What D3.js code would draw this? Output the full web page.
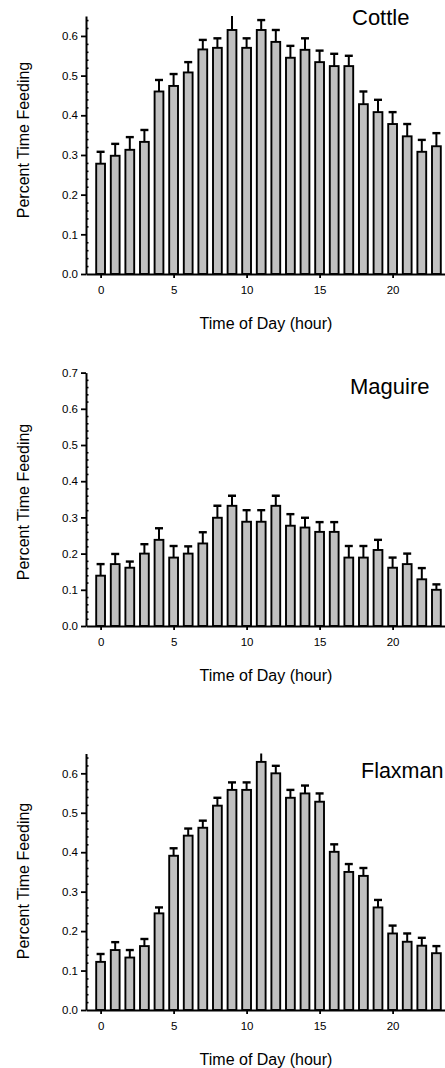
<!DOCTYPE html>
<html><head><meta charset="utf-8">
<script src="https://cdn.jsdelivr.net/npm/d3@7"></script>
<style>
body{margin:0;background:#fff}
svg{display:block}
text{font-family:"Liberation Sans",Arial,Helvetica,sans-serif;fill:#000}
</style>
</head><body>
<svg id="chart" width="445" height="1068"></svg>
<script>
// ---- data ----
const hours = [0,1,2,3,4,5,6,7,8,9,10,11,12,13,14,15,16,17,18,19,20,21,22,23];
const xTickValues = [0,5,10,15,20];

const cottleMean = [0.278,0.298,0.313,0.333,0.46,0.474,0.508,0.566,0.57,0.615,0.57,0.615,0.585,0.545,0.565,0.534,0.524,0.524,0.428,0.408,0.378,0.347,0.308,0.322];
const cottleErr  = [0.03,0.03,0.032,0.03,0.029,0.03,0.026,0.024,0.024,0.04,0.024,0.025,0.03,0.03,0.029,0.029,0.031,0.026,0.032,0.031,0.03,0.031,0.03,0.033];
const cottleYTicks = [0,0.1,0.2,0.3,0.4,0.5,0.6];

const maguireMean = [0.139,0.171,0.161,0.2,0.238,0.189,0.2,0.228,0.299,0.332,0.288,0.288,0.332,0.277,0.272,0.26,0.26,0.189,0.189,0.21,0.161,0.171,0.129,0.1];
const maguireErr  = [0.032,0.028,0.017,0.026,0.032,0.032,0.02,0.031,0.033,0.028,0.032,0.032,0.028,0.032,0.027,0.027,0.027,0.032,0.032,0.028,0.028,0.029,0.031,0.015];
const maguireYTicks = [0,0.1,0.2,0.3,0.4,0.5,0.6,0.7];

const flaxmanMean = [0.122,0.152,0.133,0.162,0.245,0.391,0.442,0.462,0.518,0.558,0.558,0.629,0.6,0.538,0.549,0.528,0.401,0.35,0.34,0.26,0.194,0.173,0.163,0.144];
const flaxmanErr  = [0.02,0.02,0.019,0.018,0.015,0.019,0.018,0.018,0.02,0.019,0.019,0.04,0.019,0.02,0.02,0.021,0.019,0.02,0.02,0.019,0.02,0.021,0.02,0.018];
const flaxmanYTicks = [0,0.1,0.2,0.3,0.4,0.5,0.6];

const titles = ["Cottle","Maguire","Flaxman"];
const yLabel = "Percent Time Feeding";
const xLabel = "Time of Day (hour)";

// ---- layout ----
const panels = [
  {title:titles[0], mean:cottleMean, err:cottleErr, yTicks:cottleYTicks, yMax:0.65, bottom:274, top:16.1, titleX:352, titleY:25, titleSize:22, labelY:140},
  {title:titles[1], mean:maguireMean, err:maguireErr, yTicks:maguireYTicks, yMax:0.7, bottom:626, top:372.6, titleX:350, titleY:394, titleSize:22, labelY:502},
  {title:titles[2], mean:flaxmanMean, err:flaxmanErr, yTicks:flaxmanYTicks, yMax:0.65, bottom:1010, top:753.6, titleX:361, titleY:778, titleSize:21.5, labelY:881}
];

const svg = d3.select("#chart");
const axisX = 86;
const x = d3.scaleLinear().domain([-1,24]).range([axisX, axisX + 25*14.6]);
const barW = 8.8;
const capW = 8;

panels.forEach((p,i) => {
  const y = d3.scaleLinear().domain([0,p.yMax]).range([p.bottom,p.top]);
  const g = svg.append("g");

  const clipId = "clip"+i;
  svg.append("clipPath").attr("id",clipId)
    .append("rect").attr("x",axisX).attr("y",p.top).attr("width",445-axisX).attr("height",p.bottom-p.top+3);

  const plot = g.append("g").attr("clip-path",`url(#${clipId})`);

  // error bars (upper only)
  const eb = plot.selectAll("g.eb").data(hours).enter().append("g").attr("class","eb");
  eb.append("line")
    .attr("x1",d=>x(d)).attr("x2",d=>x(d))
    .attr("y1",d=>y(p.mean[d])).attr("y2",d=>y(p.mean[d]+p.err[d]))
    .attr("stroke","#000").attr("stroke-width",2);
  eb.append("line")
    .attr("x1",d=>x(d)-capW/2).attr("x2",d=>x(d)+capW/2)
    .attr("y1",d=>y(p.mean[d]+p.err[d])).attr("y2",d=>y(p.mean[d]+p.err[d]))
    .attr("stroke","#000").attr("stroke-width",2.4);

  // bars
  plot.selectAll("rect.bar").data(hours).enter().append("rect").attr("class","bar")
    .attr("x",d=>x(d)-barW/2).attr("width",barW)
    .attr("y",d=>y(p.mean[d])).attr("height",d=>y(0)-y(p.mean[d]))
    .attr("fill","#c0c0c0").attr("stroke","#000").attr("stroke-width",1.9);

  // y minor ticks (inward)
  const minor = d3.range(0, p.yMax+1e-9, 0.02).filter(v => Math.abs(Math.round(v*10)-v*10) > 1e-6);
  const yMinor = g.append("g").attr("transform",`translate(${axisX},0)`)
    .call(d3.axisLeft(y).tickValues(minor).tickSize(-2.5).tickSizeOuter(0).tickFormat(""));
  yMinor.select(".domain").remove();
  yMinor.selectAll(".tick line").attr("stroke-width",1.6);

  // y major axis
  const yAx = g.append("g").attr("transform",`translate(${axisX},0)`)
    .call(d3.axisLeft(y).tickValues(p.yTicks).tickSize(5).tickSizeOuter(0).tickPadding(3).tickFormat(d3.format(".1f")));
  yAx.select(".domain").attr("stroke-width",2);
  yAx.selectAll(".tick line").attr("stroke-width",1.8);
  yAx.selectAll("text").attr("font-size",11.5).attr("font-family","Liberation Sans, Arial, sans-serif");

  // x axis
  const xAx = g.append("g").attr("transform",`translate(0,${p.bottom})`)
    .call(d3.axisBottom(x).tickValues(xTickValues).tickSize(4).tickSizeOuter(0).tickPadding(8).tickFormat(d3.format("d")));
  xAx.select(".domain").attr("stroke-width",2);
  xAx.selectAll(".tick line").attr("stroke-width",1.8);
  xAx.selectAll("text").attr("font-size",11.5).attr("font-family","Liberation Sans, Arial, sans-serif");

  // title
  g.append("text").attr("x",p.titleX).attr("y",p.titleY).attr("font-size",p.titleSize).text(p.title);

  // axis labels
  g.append("text").attr("x",266).attr("y",p.bottom+55).attr("text-anchor","middle").attr("font-size",16).text(xLabel);
  g.append("text").attr("transform",`translate(28.5,${p.labelY}) rotate(-90)`).attr("text-anchor","middle").attr("font-size",16).text(yLabel);
});
</script>
</body></html>
